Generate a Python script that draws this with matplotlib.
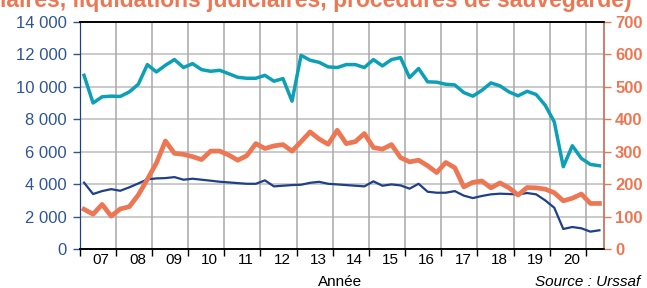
import matplotlib
matplotlib.use("Agg")
import matplotlib.pyplot as plt
import numpy as np

plt.rcParams['font.family'] = ['Liberation Sans', 'DejaVu Sans']

# Quarterly data, 2007Q1 .. 2021Q2
start_year = 2007
cyan_total = [10700, 9000, 9380, 9420, 9400, 9680, 10150, 11360, 10910, 11320,
              11670, 11180, 11420, 11050, 10950, 11010, 10800, 10580, 10520, 10520,
              10700, 10340, 10500, 9110, 11930, 11630, 11500, 11220, 11180, 11360,
              11360, 11180, 11670, 11280, 11670, 11790, 10560, 11120, 10300, 10280,
              10150, 10110, 9640, 9420, 9780, 10235, 10050, 9680, 9440, 9720,
              9520, 8860, 7840, 5080, 6370, 5590, 5220, 5140]
navy_series = [4100, 3400, 3580, 3700, 3600, 3810, 4050, 4300, 4360, 4380,
               4440, 4280, 4340, 4280, 4220, 4155, 4115, 4070, 4030, 4030,
               4240, 3870, 3910, 3950, 3970, 4090, 4150, 4030, 3990, 3950,
               3910, 3870, 4180, 3910, 3990, 3930, 3730, 4030, 3540, 3480,
               3480, 3580, 3300, 3150, 3280, 3380, 3420, 3400, 3380, 3460,
               3380, 3010, 2560, 1250, 1370, 1290, 1085, 1170]
orange_right = [123, 108, 138, 102, 124, 131, 167, 215, 265, 333,
                295, 292, 285, 276, 302, 302, 290, 274, 288, 325,
                310, 318, 322, 302, 331, 361, 339, 323, 366, 325,
                331, 356, 313, 308, 322, 282, 269, 274, 257, 236,
                267, 251, 192, 206, 210, 189, 204, 189, 167, 190,
                189, 185, 174, 149, 157, 170, 141, 141]
year_labels = ["07", "08", "09", "10", "11", "12", "13", "14", "15", "16", "17", "18", "19", "20"]
left_ticks = [0, 2000, 4000, 6000, 8000, 10000, 12000, 14000]
right_ticks = [0, 100, 200, 300, 400, 500, 600, 700]
title_text = "(redressements judiciaires, liquidations judiciaires, procédures de sauvegarde)"

C_CYAN = "#0BA0B6"
C_NAVY = "#1E3F8A"
C_ORANGE = "#EE7753"
C_LBLUE = "#2F5597"

n = len(cyan_total)
x = start_year + (np.arange(n) + 0.5) / 4.0

fig = plt.figure(figsize=(6.47, 2.88), dpi=100)
ax = fig.add_axes([0.1229, 0.1344, 0.9335 - 0.1229, 0.9247 - 0.1344])
ax2 = ax.twinx()

def fmt(v):
    return f"{v:,}".replace(",", " ")

# grid
for yv in left_ticks[1:-1]:
    ax.axhline(yv, color="#C6C6C6", lw=1.3, zorder=0)
for yr in range(start_year + 1, start_year + len(year_labels) + 1):
    ax.axvline(yr, color="#A8A8A8", lw=1.1, zorder=0)

ax.plot(x, cyan_total, color=C_CYAN, lw=2.5, zorder=3)
ax.plot(x, navy_series, color=C_NAVY, lw=1.6, zorder=3)
ax2.plot(x, orange_right, color=C_ORANGE, lw=3.4, zorder=3)

ax.set_xlim(start_year, start_year + 14.5)
ax.set_ylim(0, 14000)
ax2.set_ylim(0, 700)

ax.set_yticks(left_ticks)
ax.set_yticklabels([fmt(v) for v in left_ticks], color=C_LBLUE, fontsize=12)
ax2.set_yticks(right_ticks)
ax2.set_yticklabels([str(v) for v in right_ticks], color=C_ORANGE, fontsize=12, fontweight="bold")

major = list(range(start_year, start_year + len(year_labels) + 1))
ax.set_xticks(major)
ax.set_xticklabels([""] * len(major))
ax.set_xticks([start_year + i + 0.6 for i in range(len(year_labels))], minor=True)
ax.set_xticklabels(year_labels, minor=True, fontsize=11, color="black")
ax.tick_params(axis="x", which="major", length=5, width=1, color="black", direction="out")
ax.tick_params(axis="x", which="minor", length=0, pad=3)
ax.tick_params(axis="y", length=5, width=1, color=C_LBLUE, direction="out", pad=4)
ax2.tick_params(axis="y", length=5, width=1, color=C_ORANGE, direction="out", pad=3)

for a in (ax, ax2):
    a.spines["top"].set_color("black")
    a.spines["top"].set_linewidth(1.2)
    a.spines["bottom"].set_color("black")
    a.spines["bottom"].set_linewidth(1.2)
ax.spines["left"].set_color(C_NAVY)
ax2.spines["left"].set_color(C_NAVY)
ax2.spines["right"].set_color("#C87461")
ax2.spines["right"].set_linewidth(1.3)
ax.spines["right"].set_visible(False)

fig.text(632 / 647, 1 - 7 / 288, title_text, ha="right", va="baseline",
         color=C_ORANGE, fontsize=16.5, fontweight="bold")
fig.text(340 / 647, 1 - 281.5 / 288, "Année", ha="center", va="center", fontsize=11, color="black")
fig.text(640 / 647, 1 - 281.5 / 288, "Source : Urssaf", ha="right", va="center",
         fontsize=11, style="italic", color="black")

fig.savefig("out.png", dpi=100)
